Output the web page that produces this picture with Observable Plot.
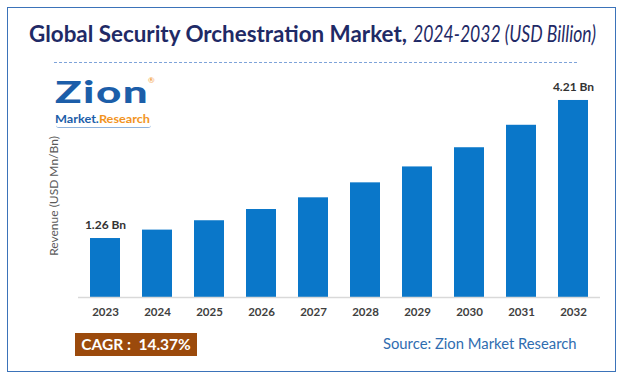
<!DOCTYPE html>
<html>
<head>
<meta charset="utf-8">
<script src="https://cdn.jsdelivr.net/npm/d3@7"></script>
<script src="https://cdn.jsdelivr.net/npm/@observablehq/plot@0.6"></script>
<style>
  html, body { margin: 0; padding: 0; background: #fff; }
  #frame { position: relative; width: 624px; height: 381px; overflow: hidden; font-family: Lato, "Open Sans", sans-serif; }
  #border { position: absolute; left: 7px; top: 7px; width: 607px; height: 363px; border: 1.5px solid #3b73b9; }
  #title { position: absolute; left: 29px; top: 20px; white-space: nowrap; color: #1f2a66; font-size: 22.6px; }
  #title b { font-weight: 700; display: inline-block; transform-origin: 0 50%; }
  #title i { font-weight: 400; font-style: italic; display: inline-block; transform-origin: 0 50%; position: absolute; left: 384px; top: 0; }
  #dash { position: absolute; left: 54px; top: 62px; width: 523px; border-top: 1.5px dashed #7ea3d9; }
  #zion { position: absolute; left: 55px; top: 73px; font-family: Lato, sans-serif; font-weight: 900; font-size: 31px; line-height: 36px; color: #1c5ea9; letter-spacing: 1px; white-space: nowrap; transform-origin: 0 50%; display: inline-block; }
  #reg { position: absolute; left: 148px; top: 76px; font-size: 8px; line-height: 8px; color: #f2941e; }
  #mr { position: absolute; left: 55px; top: 113px; font-family: Lato, sans-serif; font-weight: 700; font-size: 11.5px; line-height: 12px; white-space: nowrap; transform-origin: 0 50%; display: inline-block; }
  #swoosh { position: absolute; left: 56px; top: 125px; width: 95px; height: 2px; border-bottom: 1.5px solid #8fb3dd; border-radius: 0 0 8px 8px; }
  #mr .m { color: #1c5ea9; } #mr .r { color: #f2941e; }
  #chart { position: absolute; left: 0; top: 55px; }
  #ylabel { position: absolute; left: 53px; top: 196px; transform: translate(-50%, -50%) rotate(-90deg); white-space: nowrap; font-size: 12px; color: #595959; }
  #cagr { position: absolute; left: 75px; top: 333px; width: 122px; height: 23px; background: #9b4a0c; color: #fff; font-weight: 700; font-size: 15.5px; line-height: 23px; text-align: center; white-space: nowrap; }
  #source { position: absolute; left: 383px; top: 334px; font-size: 14.8px; color: #2f6db0; white-space: nowrap; }
  g[aria-label="bars"] rect { filter: drop-shadow(3px 1px 2px rgba(0,0,0,0.45)); }
</style>
</head>
<body>
<div id="frame">
  <div id="border"></div>
  <div id="title"><b id="tb">Global Security Orchestration Market,</b><i id="ti">2024-2032 (USD Billion)</i></div>
  <div id="dash"></div>
  <div id="zion">Zion</div>
  <div id="reg">®</div>
  <div id="mr"><span class="m">Market.</span><span class="r">Research</span></div>
  <div id="swoosh"></div>
  <div id="chart"></div>
  <div id="ylabel">Revenue (USD Mn/Bn)</div>
  <div id="cagr">CAGR :&nbsp; 14.37%</div>
  <div id="source">Source: Zion Market Research</div>
</div>
<script>
const years = ["2023", "2024", "2025", "2026", "2027", "2028", "2029", "2030", "2031", "2032"];
const revenue = [1.26, 1.44, 1.64, 1.88, 2.13, 2.45, 2.79, 3.20, 3.68, 4.21];
const valueLabels = ["1.26 Bn", "", "", "", "", "", "", "", "", "4.21 Bn"];

const data = years.map((year, i) => ({year, value: revenue[i], label: valueLabels[i]}));

// fit text pieces to the widths seen in the reference
function fitWidth(id, target) {
  const el = document.getElementById(id);
  const w = el.getBoundingClientRect().width;
  if (w > 0) el.style.transform = `scaleX(${target / w})`;
}
fitWidth("tb", 378);
fitWidth("ti", 183);
fitWidth("zion", 94);
fitWidth("mr", 95);

const chart = Plot.plot({
  width: 624,
  height: 280,
  marginLeft: 78,
  marginRight: 24,
  marginTop: 8,
  marginBottom: 38,
  style: {fontFamily: "Lato, sans-serif", background: "transparent", overflow: "visible"},
  x: {domain: years, paddingInner: 0.43, paddingOuter: 0.215, label: null},
  y: {domain: [0, 5], axis: null},
  marks: [
    Plot.barY(data, {x: "year", y: "value", fill: "#0a77c9", ariaLabel: "bars"}),
    Plot.ruleY([0], {stroke: "#d9d9d9", strokeWidth: 1.5}),
    Plot.text(data.filter(d => d.label), {x: "year", y: "value", text: "label", dy: -13, fontWeight: "bold", fontSize: 12, fill: "#333333"}),
    Plot.axisX({tickSize: 0, tickPadding: 10, fontSize: 11.5, fontWeight: "bold", color: "#404040", label: null})
  ]
});
document.getElementById("chart").appendChild(chart);
</script>
</body>
</html>
